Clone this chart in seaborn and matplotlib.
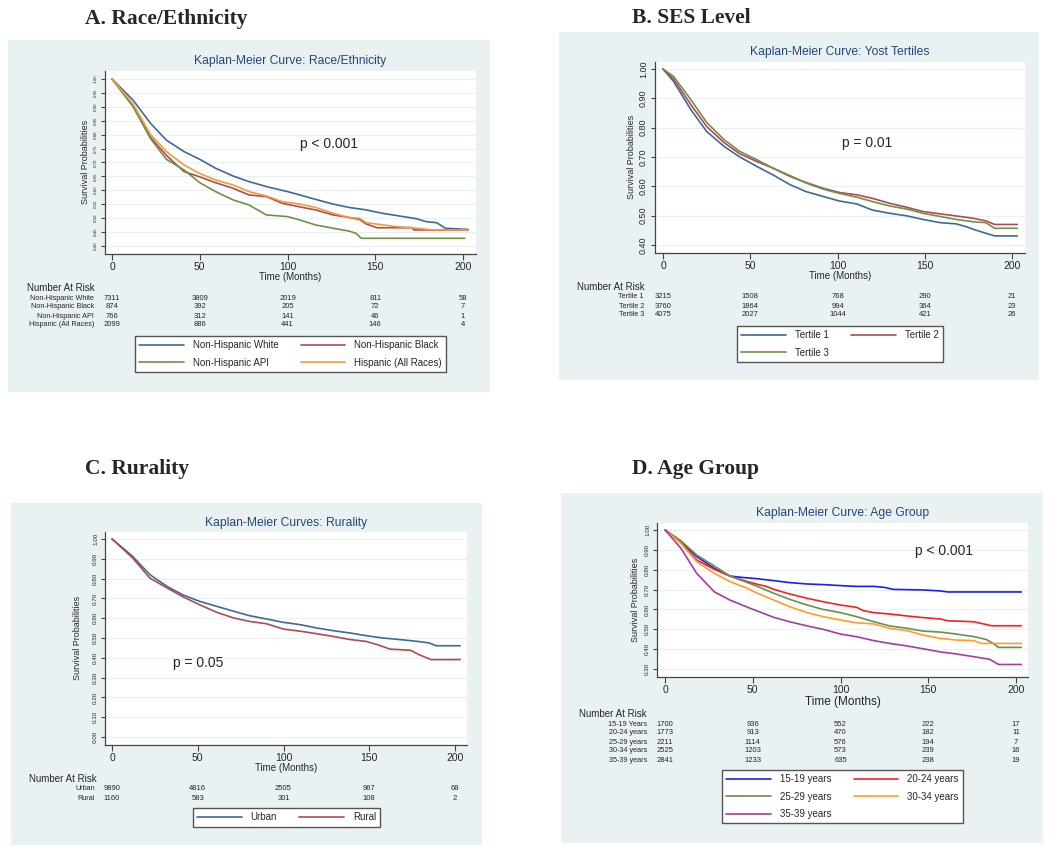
import numpy as np
import pandas as pd
import matplotlib
matplotlib.use("Agg")
import matplotlib.pyplot as plt
import matplotlib.transforms as mtransforms
from matplotlib.patches import Rectangle
from matplotlib.lines import Line2D
import seaborn as sns

# ---- A. Race/Ethnicity ----
white_t = [0, 12, 22, 31, 41, 50, 59, 69, 78, 88, 100, 107, 116, 126, 135, 145, 154, 164, 173, 179, 185, 190, 203]
white_s = [1.0, 0.924, 0.84, 0.78, 0.739, 0.711, 0.679, 0.651, 0.631, 0.613, 0.595, 0.583, 0.567, 0.55, 0.538,
           0.529, 0.517, 0.507, 0.498, 0.487, 0.483, 0.463, 0.459]
black_t = [0, 12, 22, 31, 41, 50, 59, 69, 78, 88, 97, 107, 116, 126, 135, 141, 145, 151, 162, 171, 172, 203]
black_s = [1.0, 0.905, 0.79, 0.725, 0.667, 0.648, 0.627, 0.607, 0.583, 0.577, 0.553, 0.54, 0.529, 0.511, 0.502,
           0.495, 0.478, 0.465, 0.465, 0.465, 0.457, 0.457]
api_t = [0, 12, 22, 31, 41, 50, 59, 69, 78, 88, 100, 107, 116, 126, 135, 139, 142, 201]
api_s = [1.0, 0.90, 0.785, 0.711, 0.673, 0.627, 0.595, 0.565, 0.547, 0.511, 0.505, 0.493, 0.475, 0.463, 0.453,
         0.445, 0.427, 0.427]
hisp_t = [0, 12, 22, 31, 41, 50, 59, 69, 78, 88, 97, 107, 116, 126, 135, 141, 145, 151, 162, 171, 183, 203]
hisp_s = [1.0, 0.91, 0.80, 0.739, 0.691, 0.66, 0.637, 0.619, 0.595, 0.579, 0.559, 0.55, 0.538, 0.517, 0.502,
          0.499, 0.483, 0.478, 0.469, 0.465, 0.457, 0.457]
race_groups = ["Non-Hispanic White", "Non-Hispanic Black", "Non-Hispanic API", "Hispanic (All Races)"]
race_risk = [[7311, 3809, 2019, 811, 58],
             [874, 392, 205, 72, 7],
             [766, 312, 141, 46, 1],
             [2099, 886, 441, 146, 4]]

# ---- B. SES level ----
t1_t = [0, 6, 16, 25, 35, 44, 54, 63, 73, 82, 92, 101, 111, 120, 130, 140, 149, 159, 168, 174, 178, 185, 190, 203]
t1_s = [1.0, 0.958, 0.861, 0.787, 0.736, 0.70, 0.667, 0.639, 0.605, 0.582, 0.565, 0.55, 0.54, 0.519, 0.508,
        0.499, 0.487, 0.476, 0.472, 0.462, 0.453, 0.44, 0.431, 0.431]
t2_t = [0, 6, 16, 25, 35, 44, 54, 63, 73, 82, 92, 101, 111, 120, 130, 140, 149, 159, 168, 178, 185, 190, 203]
t2_s = [1.0, 0.966, 0.878, 0.804, 0.749, 0.711, 0.684, 0.662, 0.633, 0.613, 0.593, 0.579, 0.571, 0.559, 0.542,
        0.528, 0.514, 0.506, 0.499, 0.491, 0.482, 0.47, 0.47]
t3_t = [0, 6, 16, 25, 35, 44, 54, 63, 73, 82, 92, 101, 111, 120, 130, 140, 149, 159, 168, 178, 185, 190, 203]
t3_s = [1.0, 0.975, 0.895, 0.818, 0.759, 0.719, 0.69, 0.662, 0.636, 0.611, 0.59, 0.576, 0.563, 0.548, 0.533,
        0.522, 0.508, 0.497, 0.487, 0.479, 0.476, 0.457, 0.457]
ses_groups = ["Tertile 1", "Tertile 2", "Tertile 3"]
ses_risk = [[3215, 1508, 768, 290, 21],
            [3760, 1864, 994, 364, 23],
            [4075, 2027, 1044, 421, 26]]

# ---- C. Rurality ----
urban_t = [0, 12, 22, 32, 41, 51, 61, 71, 80, 90, 100, 110, 119, 129, 139, 148, 158, 168, 178, 185, 189, 203]
urban_s = [1.0, 0.912, 0.82, 0.761, 0.719, 0.685, 0.66, 0.635, 0.613, 0.596, 0.579, 0.567, 0.551, 0.537, 0.525,
           0.512, 0.50, 0.492, 0.483, 0.475, 0.461, 0.461]
rural_t = [0, 12, 22, 32, 41, 51, 61, 71, 80, 90, 100, 110, 119, 129, 139, 148, 155, 162, 174, 179, 186, 203]
rural_s = [1.0, 0.904, 0.803, 0.753, 0.71, 0.668, 0.63, 0.601, 0.584, 0.572, 0.545, 0.534, 0.522, 0.508, 0.492,
           0.483, 0.466, 0.444, 0.438, 0.416, 0.391, 0.391]
rural_groups = ["Urban", "Rural"]
rural_risk = [[9890, 4816, 2505, 967, 68],
              [1160, 583, 301, 108, 2]]

# ---- D. Age group ----
a1519_t = [0, 9, 18, 28, 37, 43, 52, 62, 71, 81, 90, 100, 109, 119, 125, 130, 147, 157, 161, 203]
a1519_s = [1.0, 0.941, 0.866, 0.807, 0.768, 0.762, 0.755, 0.745, 0.735, 0.728, 0.725, 0.72, 0.716, 0.716, 0.711,
           0.701, 0.698, 0.693, 0.688, 0.688]
a2024_t = [0, 9, 18, 28, 37, 47, 52, 58, 62, 71, 81, 90, 100, 109, 113, 119, 128, 138, 147, 157, 161, 176, 180,
           186, 203]
a2024_s = [1.0, 0.936, 0.849, 0.802, 0.768, 0.74, 0.728, 0.715, 0.701, 0.678, 0.656, 0.639, 0.622, 0.611, 0.594,
           0.584, 0.577, 0.567, 0.559, 0.552, 0.543, 0.538, 0.53, 0.518, 0.518]
a2529_t = [0, 9, 18, 28, 37, 47, 52, 62, 71, 81, 90, 100, 109, 119, 128, 138, 147, 157, 166, 176, 183, 187, 190, 203]
a2529_s = [1.0, 0.946, 0.874, 0.819, 0.768, 0.735, 0.718, 0.681, 0.651, 0.622, 0.60, 0.584, 0.564, 0.538, 0.517,
           0.505, 0.491, 0.486, 0.476, 0.463, 0.449, 0.429, 0.409, 0.409]
a3034_t = [0, 9, 18, 28, 37, 47, 52, 62, 71, 81, 90, 100, 109, 119, 128, 138, 147, 157, 166, 176, 180, 203]
a3034_s = [1.0, 0.933, 0.841, 0.782, 0.74, 0.706, 0.684, 0.647, 0.614, 0.584, 0.564, 0.547, 0.533, 0.527, 0.505,
           0.493, 0.471, 0.454, 0.446, 0.443, 0.429, 0.429]
a3539_t = [0, 9, 18, 28, 37, 47, 52, 62, 71, 81, 90, 100, 109, 119, 128, 138, 147, 157, 166, 176, 185, 190, 203]
a3539_s = [1.0, 0.908, 0.782, 0.689, 0.647, 0.611, 0.594, 0.56, 0.538, 0.517, 0.50, 0.476, 0.463, 0.443, 0.429,
           0.416, 0.402, 0.386, 0.376, 0.362, 0.349, 0.323, 0.323]
age_groups = ["15-19 years", "20-24 years", "25-29 years", "30-34 years", "35-39 years"]
age_risk_labels = ["15-19 Years", "20-24 years", "25-29 years", "30-34 years", "35-39 years"]
age_risk = [[1700, 936, 552, 222, 17],
            [1773, 913, 470, 182, 11],
            [2211, 1114, 576, 194, 7],
            [2525, 1203, 573, 239, 16],
            [2841, 1233, 635, 238, 19]]

risk_times = [0, 50, 100, 150, 200]

stata_cols = ["#3d6a98", "#b04a52", "#6f9048", "#f29c3a"]
age_cols = ["#1c1cf5", "#f52222", "#6a8f4a", "#ff9c2a", "#a63aa6"]

W, H = 1050, 850
BOX = "#e9f1f3"
NAVY = "#23477a"

sns.set_theme(style="white")
plt.rcParams["font.family"] = ["Liberation Sans", "DejaVu Sans"]

fig = plt.figure(figsize=(10.5, 8.5), dpi=100)
fig.patch.set_facecolor("white")


def fx(px):
    return px / W


def fy(py):
    return 1 - py / H


def panel(heading, head_px, box_px, ax_px, xlim, ylim, yticks, ytick_fs, title, title_px,
          ylab_px, xlab_px, xlab_fs, groups, curves, colors, risk_labels, risk, risk_px,
          leg_order, leg_px, pval, pval_xy):
    x0, y0, x1, y1 = box_px
    fig.patches.append(Rectangle((fx(x0), fy(y1)), (x1 - x0) / W, (y1 - y0) / H,
                                 transform=fig.transFigure, facecolor=BOX, edgecolor="none", zorder=-10))
    fig.text(fx(head_px[0]), fy(head_px[1]), heading, family="Liberation Serif", weight="bold",
             fontsize=15.5, ha="left", va="center")

    l, t, r, b = ax_px
    ax = fig.add_axes([fx(l), fy(b), (r - l) / W, (b - t) / H])
    ax.set_zorder(2)
    ax.set_facecolor("white")

    frames = [pd.DataFrame({"t": tt, "s": ss, "group": g}) for g, (tt, ss) in zip(groups, curves)]
    df = pd.concat(frames, ignore_index=True)
    pal = dict(zip(groups, colors))
    sns.lineplot(data=df, x="t", y="s", hue="group", hue_order=groups, palette=pal,
                 estimator=None, sort=False, legend=False, linewidth=1.2, ax=ax)

    ax.set_xlim(xlim)
    ax.set_ylim(ylim)
    ax.set_xticks(risk_times)
    ax.set_yticks(yticks)
    ax.set_yticklabels([f"{v:.2f}" for v in yticks], rotation=90, va="center", fontsize=ytick_fs)
    ax.tick_params(axis="x", bottom=True, labelsize=7.5, length=4, width=0.8, color="#444", pad=2)
    ax.tick_params(axis="y", left=True, length=3, width=0.8, color="#444", pad=2)
    for s in ["top", "right"]:
        ax.spines[s].set_visible(False)
    for s in ["left", "bottom"]:
        ax.spines[s].set_color("#444")
        ax.spines[s].set_linewidth(0.9)
    ax.grid(axis="y", color=BOX, linewidth=0.9)
    ax.grid(axis="x", visible=False)
    ax.set_axisbelow(True)
    ax.set_xlabel("")
    ax.set_ylabel("")

    fig.text(fx(title_px[0]), fy(title_px[1]), title, color=NAVY, fontsize=8.7, ha="center", va="center")
    fig.text(fx(ylab_px[0]), fy(ylab_px[1]), "Survival Probabilities", rotation=90, fontsize=6.5,
             ha="center", va="center")
    fig.text(fx(xlab_px[0]), fy(xlab_px[1]), "Time (Months)", fontsize=xlab_fs, ha="center", va="center")
    ax.text(pval_xy[0], pval_xy[1], pval, fontsize=10, ha="left", va="center")

    # number at risk table
    nx, ny, lab_right, row_y = risk_px
    fig.text(fx(nx), fy(ny), "Number At Risk", fontsize=7, ha="left", va="center")
    trans = mtransforms.blended_transform_factory(ax.transData, fig.transFigure)
    for lab, row, yy in zip(risk_labels, risk, row_y):
        fig.text(fx(lab_right), fy(yy), lab, fontsize=5.2, ha="right", va="center")
        for tm, n in zip(risk_times, row):
            ax.text(tm, fy(yy), str(n), fontsize=5.5, ha="center", va="center", transform=trans, clip_on=False)

    handles = [Line2D([], [], color=pal[groups[i]], linewidth=1.2) for i in leg_order]
    labels = [groups[i] for i in leg_order]
    leg = fig.legend(handles, labels, loc="upper center", bbox_to_anchor=(fx(leg_px[0]), fy(leg_px[1])),
                     ncol=2, frameon=True, fancybox=False, edgecolor="#555555", fontsize=7,
                     handlelength=4.6, handletextpad=0.9, columnspacing=2.3, labelspacing=0.75,
                     borderpad=0.45, borderaxespad=0)
    leg.get_frame().set_linewidth(1.0)
    leg.get_frame().set_alpha(1)
    return ax


panel("A. Race/Ethnicity", (85, 19), (8, 40, 490, 392), (105, 71, 476, 254),
      (-4.0, 207.4), (0.3705, 1.0288), np.arange(0.40, 1.001, 0.05), 3.2,
      "Kaplan-Meier Curve: Race/Ethnicity", (290, 61), (86, 162), (290, 277), 7,
      race_groups, [(white_t, white_s), (black_t, black_s), (api_t, api_s), (hisp_t, hisp_s)],
      stata_cols, race_groups, race_risk, (27, 288, 94, [298, 307, 316, 325]),
      [0, 2, 1, 3], (290.5, 336), "p < 0.001", (107, 0.766))

panel("B. SES Level", (632, 18), (559, 32, 1039, 380), (655, 62, 1025, 253),
      (-4.6, 207.4), (0.3727, 1.0239), np.arange(0.40, 1.001, 0.10), 6.5,
      "Kaplan-Meier Curve: Yost Tertiles", (840, 52), (631, 157), (840, 276), 7,
      ses_groups, [(t1_t, t1_s), (t2_t, t2_s), (t3_t, t3_s)],
      stata_cols[:3], ses_groups, ses_risk, (577, 287, 644, [297, 306, 315]),
      [0, 2, 1], (840, 326), "p = 0.01", (102.6, 0.748))

panel("C. Rurality", (85, 469), (11, 503, 482, 845), (105, 532, 467, 745),
      (-4.1, 207.0), (-0.04, 1.035), np.arange(0.0, 1.001, 0.10), 4.5,
      "Kaplan-Meier Curves: Rurality", (286, 523), (77, 638), (286, 768), 7,
      rural_groups, [(urban_t, urban_s), (rural_t, rural_s)],
      stata_cols[:2], rural_groups, rural_risk, (29, 779, 95, [789, 798]),
      [0, 1], (286.5, 808), "p = 0.05", (35.6, 0.374))

panel("D. Age Group", (632, 469), (561, 493, 1043, 843), (657, 523, 1028, 677),
      (-4.6, 206.8), (0.26, 1.035), np.arange(0.30, 1.001, 0.10), 4.5,
      "Kaplan-Meier Curve: Age Group", (843, 513), (636, 600), (843, 702), 8.5,
      age_groups, [(a1519_t, a1519_s), (a2024_t, a2024_s), (a2529_t, a2529_s), (a3034_t, a3034_s),
                   (a3539_t, a3539_s)],
      age_cols, age_risk_labels, age_risk, (579, 714, 647, [724, 733, 742, 751, 760]),
      [0, 2, 4, 1, 3], (842.5, 770), "p < 0.001", (142.5, 0.894))

fig.savefig("out.png", dpi=100, facecolor="white")
